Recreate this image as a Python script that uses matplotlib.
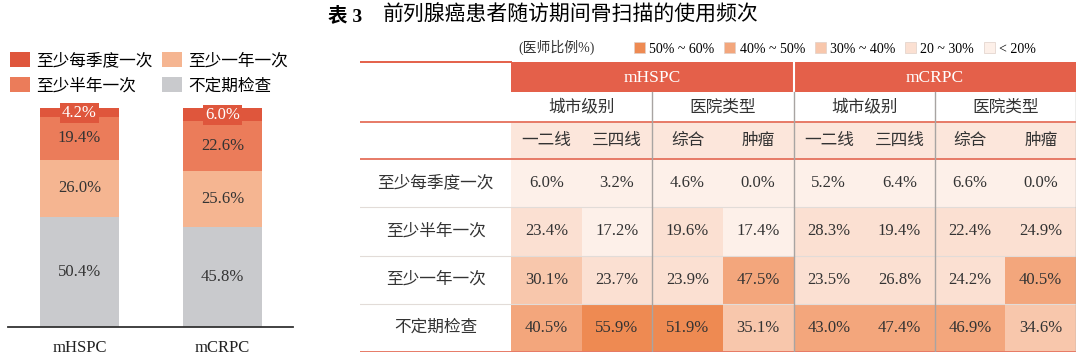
import matplotlib.pyplot as plt
import numpy as np
from matplotlib.colors import ListedColormap, BoundaryNorm
from matplotlib.patches import Patch

plt.rcParams['font.family'] = ['Liberation Serif', 'Noto Sans CJK SC']

# ---- data ----
freq_labels = ['至少每季度一次', '至少半年一次', '至少一年一次', '不定期检查']
bar_groups = ['mHSPC', 'mCRPC']
quarterly = [4.2, 6.0]
half_year = [19.4, 22.6]
yearly = [26.0, 25.6]
irregular = [50.4, 45.8]

diseases = ['mHSPC', 'mCRPC']
sub_groups = ['城市级别', '医院类型']
col_labels = ['一二线', '三四线', '综合', '肿瘤'] * 2
heat_values = np.array([
    [6.0, 3.2, 4.6, 0.0, 5.2, 6.4, 6.6, 0.0],
    [23.4, 17.2, 19.6, 17.4, 28.3, 19.4, 22.4, 24.9],
    [30.1, 23.7, 23.9, 47.5, 23.5, 26.8, 24.2, 40.5],
    [40.5, 55.9, 51.9, 35.1, 43.0, 47.4, 46.9, 34.6],
])
bin_labels = ['50% ~ 60%', '40% ~ 50%', '30% ~ 40%', '20 ~ 30%', '< 20%']
bin_edges = [0, 19, 30, 40, 50, 100]
bin_colors = ['#fdf0e9', '#fbe0d2', '#f8c7ac', '#f3a67c', '#ee8a52']

c_quarter = '#df563c'
c_half = '#eb7c5a'
c_year = '#f5b591'
c_irreg = '#c9cacd'
c_red = '#e4604a'
c_txt = '#333333'

W, H = 1080, 361
fig = plt.figure(figsize=(W / 100, H / 100), dpi=100)


def fax(x0, y0, x1, y1):
    # axes from a pixel box, y counted from the top
    return fig.add_axes([x0 / W, 1 - y1 / H, (x1 - x0) / W, (y1 - y0) / H])


# ---- title ----
fig.text(328 / W, 1 - 16 / H, '表 3', fontsize=14, fontweight='bold', va='center', ha='left')
fig.text(383 / W, 1 - 16 / H, '前列腺癌患者随访期间骨扫描的使用频次', fontsize=15,
         va='center', ha='left')

# ---- stacked bars ----
ax = fax(8, 108, 293, 327)
x = np.arange(len(bar_groups))
w = 0.552
bottom = np.zeros(len(bar_groups))
series = [(irregular, c_irreg), (yearly, c_year), (half_year, c_half), (quarterly, c_quarter)]
for vals, col in series:
    vals = np.array(vals)
    ax.bar(x, vals, w, bottom=bottom, color=col, edgecolor='none', clip_on=False)
    for xi, b, v in zip(x, bottom, vals):
        if col == c_quarter:
            ax.text(xi, b + v / 2, f'{v:.1f}%', ha='center', va='center', fontsize=12,
                    color='white', clip_on=False,
                    bbox=dict(boxstyle='square,pad=0.12', fc=c_quarter, ec='none'))
        else:
            ax.text(xi, b + v / 2, f'{v:.1f}%', ha='center', va='center', fontsize=12,
                    color=c_txt)
    bottom += vals
ax.set_xlim(-0.5, 1.493)
ax.set_ylim(0, 100)
for s in ['top', 'right', 'left']:
    ax.spines[s].set_visible(False)
ax.spines['bottom'].set_color('#333333')
ax.spines['bottom'].set_linewidth(1.3)
ax.set_yticks([])
ax.set_xticks(x)
ax.set_xticklabels(bar_groups, fontsize=12, color='#222222')
ax.tick_params(axis='x', length=0, pad=9)
ax.patch.set_alpha(0)

handles = [Patch(fc=c_quarter), Patch(fc=c_half), Patch(fc=c_year), Patch(fc=c_irreg)]
fig.legend(handles, freq_labels, loc='upper left', bbox_to_anchor=(10 / W, 1 - 52 / H),
           ncol=2, frameon=False, fontsize=12, borderpad=0, borderaxespad=0,
           handlelength=1.2, handleheight=1.0, labelspacing=0.5, columnspacing=0.6,
           handletextpad=0.35)

# ---- heat table ----
row_top = 159
row_h = (352 - 159) / 4
lab_w = 151 / 70.6
ta = fax(360, 61, 1076, 352)
ta.set_xlim(-lab_w, 8)
ta.set_ylim(352, 61)
ta.axis('off')

cmap = ListedColormap(bin_colors)
norm = BoundaryNorm(bin_edges, cmap.N)
ta.pcolormesh(np.arange(9), row_top + np.arange(5) * row_h, heat_values, cmap=cmap, norm=norm)

for i, lab in enumerate(freq_labels):
    yc = row_top + (i + 0.5) * row_h
    ta.text(-lab_w / 2, yc, lab, ha='center', va='center', fontsize=12, color=c_txt)
    for j in range(heat_values.shape[1]):
        ta.text(j + 0.5, yc, f'{heat_values[i, j]:.1f}%', ha='center', va='center',
                fontsize=12, color=c_txt)

# header bands
for k, d in enumerate(diseases):
    ta.fill_between([4 * k, 4 * k + 4], 62, 92, color=c_red, lw=0)
    ta.text(4 * k + 2, 77.5, d, ha='center', va='center', fontsize=12.5, color='white')
    for m, g in enumerate(sub_groups):
        ta.text(4 * k + 2 * m + 1, 107.5, g, ha='center', va='center', fontsize=12, color=c_txt)
ta.fill_between([0, 8], 122, row_top, color='#fce6db', lw=0)
for j, c in enumerate(col_labels):
    ta.text(j + 0.5, 141, c, ha='center', va='center', fontsize=12, color=c_txt)

# grid lines
for i in range(1, 4):
    ta.plot([-lab_w, 8], [row_top + i * row_h] * 2, color='#e2dcd8', lw=0.8)
ta.plot([-lab_w, 0], [61.5, 61.5], color=c_red, lw=1.4)
for yy in [122, row_top, 352]:
    ta.plot([-lab_w, 8], [yy, yy], color='#e77a66', lw=1.4)
ta.plot([4, 4], [62, 92], color='white', lw=1.5)
for xx in [2, 4, 6, 8]:
    ta.plot([xx, xx], [92, 351], color='#a8a4a2', lw=1.0)

fig.legend([Patch(fc=c, ec='#e0d0c8', lw=0.5) for c in bin_colors[::-1]], bin_labels,
           loc='center left', bbox_to_anchor=(634 / W, 1 - 49 / H), ncol=5, frameon=False,
           fontsize=10, borderpad=0, borderaxespad=0, handlelength=0.8, handleheight=0.8,
           handletextpad=0.3, columnspacing=0.7)
fig.text(518 / W, 1 - 47 / H, '(医师比例%)', fontsize=10, va='center', ha='left', color=c_txt)

fig.savefig('out.png', dpi=100)
